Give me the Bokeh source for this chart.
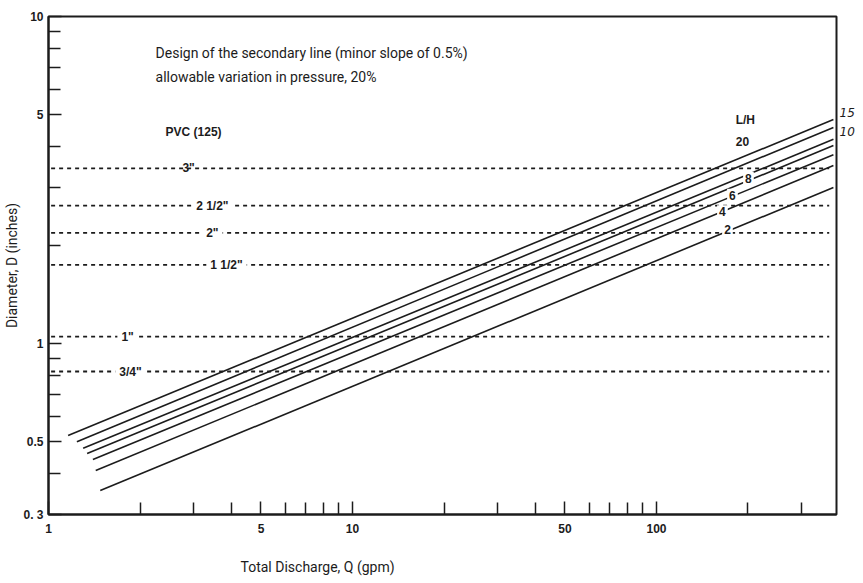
from bokeh.plotting import figure
from bokeh.models import FixedTicker, Label, CustomJSTickFormatter, LogAxis, Title
from bokeh.core.properties import value
from bokeh.embed import file_html
from bokeh.resources import INLINE

# ---- data ----
# L/H curves (straight lines on log-log), start and end points
lh_names = ["20", "15", "10", "8", "6", "4", "2"]
q_start = [1.16, 1.24, 1.30, 1.34, 1.40, 1.43, 1.48]
d_start = [0.523, 0.501, 0.478, 0.461, 0.442, 0.409, 0.355]
q_end = [382, 382, 382, 382, 382, 382, 382]
d_end = [4.84, 4.58, 4.21, 4.03, 3.78, 3.50, 3.00]

# PVC (125) pipe inner diameters (horizontal dashed lines)
pipe_names = ['3"', '2 1/2"', '2"', '1 1/2"', '1"', '3/4"']
pipe_diam = [3.43, 2.64, 2.18, 1.74, 1.05, 0.821]
pipe_q_from = [1.02, 1.02, 1.02, 1.02, 1.02, 1.02]
pipe_q_to = [370, 370, 370, 370, 370, 370]

x_major = [1, 5, 10, 50, 100]
x_minor = [2, 3, 4, 6, 7, 8, 9, 20, 30, 40, 60, 70, 80, 90, 200, 300]
y_major = [0.3, 0.5, 1, 5, 10]
y_minor = [0.4, 0.6, 0.7, 0.8, 0.9, 2, 3, 4, 6, 7, 8, 9]

# labels of the two L/H lines that are named outside the frame (right side)
right_lab_d = [5.09, 4.45]
right_lab_t = ["15", "10"]

INK = "#1c1c1c"
BOLD = "Liberation Sans, Arial, sans-serif"
NARROW = "Roboto, sans-serif"

p = figure(width=863, height=583, x_axis_type="log", y_axis_type="log",
           x_range=(1, 391), y_range=(0.3, 10),
           output_backend="svg", toolbar_location=None,
           min_border_left=48, min_border_right=27,
           min_border_top=16, min_border_bottom=69)
p.grid.visible = False
p.outline_line_color = INK
p.outline_line_width = 2
p.background_fill_color = "white"
p.border_fill_color = "white"

fmt = CustomJSTickFormatter(code="""
const m = {"0.3": "0. 3"};
const s = String(tick);
return (s in m) ? m[s] : s;
""")

for ax, maj, mnr, st in ((p.xaxis[0], x_major, x_minor, 9), (p.yaxis[0], y_major, y_minor, 5)):
    ax.ticker = FixedTicker(ticks=maj, minor_ticks=mnr)
    ax.formatter = fmt
    ax.major_tick_in = 13
    ax.major_tick_out = 0
    ax.minor_tick_in = 12
    ax.minor_tick_out = 0
    ax.major_tick_line_color = INK
    ax.minor_tick_line_color = INK
    ax.major_tick_line_width = 1.5
    ax.minor_tick_line_width = 1.5
    ax.axis_line_color = INK
    ax.axis_line_width = 2
    ax.major_label_text_font = BOLD
    ax.major_label_text_font_style = "bold"
    ax.major_label_text_font_size = "12px"
    ax.major_label_text_color = INK
    ax.major_label_standoff = st

p.yaxis[0].axis_label = "Diameter, D (inches)"
p.yaxis[0].axis_label_standoff = 0
p.yaxis[0].axis_label_text_font = NARROW
p.yaxis[0].axis_label_text_font_style = "normal"
p.yaxis[0].axis_label_text_font_size = "14px"
p.yaxis[0].axis_label_text_color = INK

# right-side axis carrying the "15" and "10" line names
rax = LogAxis(ticker=FixedTicker(ticks=right_lab_d, minor_ticks=[]),
              major_label_overrides={right_lab_d[0]: right_lab_t[0], right_lab_d[1]: right_lab_t[1]},
              axis_line_color=None, major_tick_line_color=None, minor_tick_line_color=None,
              major_tick_in=0, major_tick_out=0, minor_tick_in=0, minor_tick_out=0,
              major_label_standoff=3, major_label_text_font="DejaVu Sans, sans-serif",
              major_label_text_font_style="italic", major_label_text_font_size="12px",
              major_label_text_color=INK)
p.add_layout(rax, "right")

# x-axis title, placed left of centre and low, as in the original
p.add_layout(Title(text="\nTotal Discharge, Q (gpm)", align="left", offset=192,
                   vertical_align="bottom",
                   text_font=NARROW, text_font_style="normal", text_font_size="14px",
                   text_color=INK, standoff=10), "below")

# horizontal dashed pipe lines
p.segment(x0=pipe_q_from, y0=pipe_diam, x1=pipe_q_to, y1=pipe_diam,
          line_color=INK, line_width=1.8, line_dash="4 4")

# L/H lines
p.segment(x0=q_start, y0=d_start, x1=q_end, y1=d_end,
          line_color=INK, line_width=1.6)

# pipe labels (on the lines)
pipe_lab_q = [2.89, 3.46, 3.46, 3.85, 1.82, 1.86]
p.text(x=pipe_lab_q[:1], y=pipe_diam[:1], text=pipe_names[:1],
       text_font=value(BOLD), text_font_style="bold", text_font_size="12px",
       text_color=INK, text_align="center", text_baseline="middle")
p.text(x=pipe_lab_q[1:], y=pipe_diam[1:], text=pipe_names[1:],
       text_font=value(BOLD), text_font_style="bold", text_font_size="12px",
       text_color=INK, text_align="center", text_baseline="middle",
       background_fill_color="white", padding=4)

# L/H labels on lines
lh_lab_q = [191.8, 200.7, 177.8, 164.8, 171.2]
lh_lab_d = [4.15, 3.20, 2.84, 2.53, 2.23]
lh_lab_t = ["20", "8", "6", "4", "2"]
p.text(x=lh_lab_q[:1], y=lh_lab_d[:1], text=lh_lab_t[:1],
       text_font=value(BOLD), text_font_style="bold", text_font_size="12px",
       text_color=INK, text_align="center", text_baseline="middle")
p.text(x=lh_lab_q[1:], y=lh_lab_d[1:], text=lh_lab_t[1:],
       text_font=value(BOLD), text_font_style="bold", text_font_size="12px",
       text_color=INK, text_align="center", text_baseline="middle",
       background_fill_color="white", padding=2)

def lab(x, y, t, font=BOLD, size="12px", style="bold", align="left"):
    L = Label(x=x, y=y, text=t, text_font=font, text_font_size=size,
              text_font_style=style, text_color=INK, text_align=align,
              text_baseline="middle")
    p.add_layout(L)

lab(196, 4.81, "L/H", align="center")
lab(3.0, 4.42, "PVC (125)", align="center")
lab(2.25, 7.76, "Design of the secondary line (minor slope of 0.5%)", font=NARROW, size="14px", style="normal")
lab(2.25, 6.55, "allowable variation in pressure, 20%", font=NARROW, size="14px", style="normal")

open("out.html", "w").write(file_html(p, INLINE))
